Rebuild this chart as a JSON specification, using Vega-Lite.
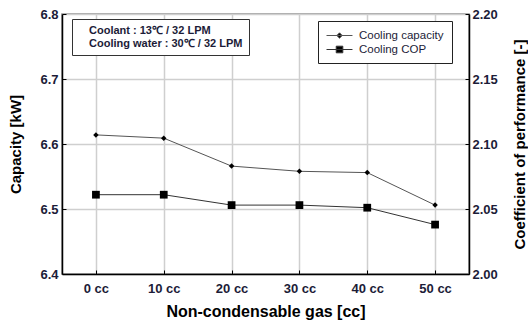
{
  "$schema": "https://vega.github.io/schema/vega-lite/v6.json",
  "width": 407,
  "height": 260,
  "autosize": {"type": "none"},
  "padding": {"left": 62, "top": 14, "right": 59, "bottom": 51},
  "background": "white",
  "config": {
    "font": "Liberation Sans",
    "view": {"stroke": "#8a8a8a", "strokeWidth": 1.5},
    "axis": {
      "labelFont": "Liberation Sans",
      "titleFont": "Liberation Sans",
      "labelFontWeight": "bold",
      "titleFontWeight": "bold",
      "labelColor": "#1c1c38",
      "titleColor": "#000000",
      "domainColor": "#000000",
      "domainWidth": 1.5,
      "tickColor": "#000000",
      "gridColor": "#cfcfcf",
      "gridWidth": 1.5
    }
  },
  "data": {
    "values": [
      {"gas": "0 cc", "capacity": 6.614, "cop": 2.061},
      {"gas": "10 cc", "capacity": 6.609, "cop": 2.061},
      {"gas": "20 cc", "capacity": 6.566, "cop": 2.053},
      {"gas": "30 cc", "capacity": 6.558, "cop": 2.053},
      {"gas": "40 cc", "capacity": 6.556, "cop": 2.051},
      {"gas": "50 cc", "capacity": 6.506, "cop": 2.038}
    ]
  },
  "layer": [
    {
      "encoding": {
        "x": {
          "field": "gas",
          "type": "nominal",
          "sort": ["0 cc", "10 cc", "20 cc", "30 cc", "40 cc", "50 cc"],
          "scale": {"type": "point", "padding": 0.5},
          "axis": {
            "title": "Non-condensable gas [cc]",
            "titleFontSize": 16,
            "titlePadding": 8,
            "labelAngle": 0,
            "labelFontSize": 13,
            "labelPadding": 12,
            "tickSize": -4,
            "grid": true
          }
        }
      },
      "layer": [
        {
          "mark": {"type": "line", "strokeWidth": 1},
          "encoding": {
            "y": {
              "field": "capacity",
              "type": "quantitative",
              "scale": {"domain": [6.4, 6.8], "nice": false, "zero": false},
              "axis": {
                "orient": "left",
                "title": "Capacity [kW]",
                "titleFontSize": 15,
                "titlePadding": 16,
                "labelFontSize": 13,
                "labelPadding": 8,
                "values": [6.4, 6.45, 6.5, 6.55, 6.6, 6.65, 6.7, 6.75, 6.8],
                "labelExpr": "round(datum.value*100) % 10 == 0 ? format(datum.value, '.1f') : ''",
                "gridOpacity": {"condition": {"test": "round(datum.value*100) % 10 != 0", "value": 0}, "value": 1},
                "tickSize": -4
              }
            },
            "color": {
              "datum": "Cooling capacity",
              "scale": {"domain": ["Cooling capacity", "Cooling COP"], "range": ["#555555", "#333333"]},
              "legend": {
                "title": null,
                "orient": "none",
                "legendX": 256,
                "legendY": 7,
                "symbolSize": 144,
                "symbolStrokeWidth": 1,
                "labelFontSize": 11.5,
                "labelColor": "#1c1c38",
                "labelFont": "Liberation Sans",
                "labelOffset": 20,
                "padding": 8,
                "rowPadding": 2,
                "strokeColor": "#222222",
                "fillColor": "#ffffff",
                "encode": {
                  "symbols": {
                    "update": {
                      "shape": {"signal": "datum.label == 'Cooling capacity' ? 'M-1,0H3.33M1.17,-0.45L1.62,0L1.17,0.45L0.72,0Z' : 'M-1,0H3.33M0.62,-0.55H1.72V0.55H0.62Z'"},
                      "fill": {"value": "#000000"},
                      "stroke": {"value": "#000000"},
                      "strokeWidth": {"value": 1},
                      "opacity": {"value": 1}
                    }
                  }
                }
              }
            }
          }
        },
        {
          "mark": {"type": "point", "shape": "diamond", "filled": true, "size": 30, "color": "#000000", "opacity": 1},
          "encoding": {"y": {"field": "capacity", "type": "quantitative"}}
        }
      ]
    },
    {
      "encoding": {
        "x": {"field": "gas", "type": "nominal", "sort": ["0 cc", "10 cc", "20 cc", "30 cc", "40 cc", "50 cc"]}
      },
      "layer": [
        {
          "mark": {"type": "line", "strokeWidth": 1},
          "encoding": {
            "y": {
              "field": "cop",
              "type": "quantitative",
              "scale": {"domain": [2.0, 2.2], "nice": false, "zero": false},
              "axis": {
                "orient": "right",
                "title": "Coefficient of performance [-]",
                "titleAngle": -90,
                "titleFontSize": 15,
                "titlePadding": 30,
                "labelFontSize": 13,
                "labelPadding": 7,
                "values": [2.0, 2.025, 2.05, 2.075, 2.1, 2.125, 2.15, 2.175, 2.2],
                "labelExpr": "round(datum.value*1000) % 50 == 0 ? format(datum.value, '.2f') : ''",
                "grid": false,
                "tickSize": -4
              }
            },
            "color": {"datum": "Cooling COP"}
          }
        },
        {
          "mark": {"type": "point", "shape": "square", "filled": true, "size": 60, "color": "#000000", "opacity": 1},
          "encoding": {"y": {"field": "cop", "type": "quantitative"}}
        }
      ]
    },
    {
      "data": {"values": [{"note": "Coolant : 13℃ / 32 LPM"}, {"note": "Cooling water : 30℃ / 32 LPM"}]},
      "mark": {"type": "point", "opacity": 0},
      "encoding": {
        "shape": {
          "field": "note",
          "type": "nominal",
          "sort": ["Coolant : 13℃ / 32 LPM", "Cooling water : 30℃ / 32 LPM"],
          "legend": {
            "title": null,
            "orient": "none",
            "legendX": 10,
            "legendY": 5,
            "symbolSize": 0,
            "symbolOpacity": 0,
            "symbolStrokeWidth": 0,
            "labelOffset": 0,
            "labelLimit": 400,
            "labelFontSize": 11,
            "labelFontWeight": "bold",
            "labelColor": "#1c1c38",
            "labelFont": "Liberation Sans",
            "padding": 6,
            "rowPadding": 1,
            "strokeColor": "#333333",
            "fillColor": "#ffffff"
          }
        }
      }
    }
  ],
  "resolve": {"scale": {"y": "independent"}}
}
